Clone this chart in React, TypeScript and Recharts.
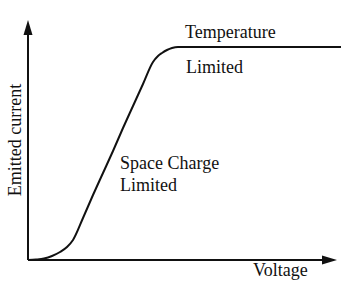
import { LineChart, Line, XAxis, YAxis, ReferenceLine, ReferenceDot, Customized } from 'recharts';

// voltage / emitted current (arbitrary units)
const voltage = [0, 8, 16, 24, 32, 39, 45, 55, 65, 75, 85, 95, 105, 115, 125, 130, 134, 139, 144, 150, 200, 260, 313];
const current = [0, 0.5, 1.5, 4, 8, 13, 20, 42, 65, 87, 109, 132, 154, 176, 198, 204, 207, 210, 212, 213, 213, 213, 213];

const chartData = voltage.map((v, i) => ({ v, i: current[i] }));

const FONT = "'Liberation Serif', 'DejaVu Serif', serif";
const INK = '#111';

const ArrowUp = (p: any) => (
  <polygon points={`${p.cx},${p.cy} ${p.cx - 4.5},${p.cy + 15} ${p.cx + 4.5},${p.cy + 15}`} fill={INK} />
);
const ArrowRight = (p: any) => (
  <polygon points={`${p.cx},${p.cy} ${p.cx - 15},${p.cy - 4.5} ${p.cx - 15},${p.cy + 4.5}`} fill={INK} />
);

function Annotations() {
  const s = { fontFamily: FONT, fontSize: 18, fill: INK };
  return (
    <g>
      <text x={185} y={38} style={s}>Temperature</text>
      <text x={186} y={73} style={s}>Limited</text>
      <text x={120} y={169} style={s}>Space Charge</text>
      <text x={120} y={191} style={s}>Limited</text>
      <text x={253} y={276} style={s}>Voltage</text>
      <text x={21} y={140} textAnchor="middle" transform="rotate(-90 21 140)" style={s}>Emitted current</text>
    </g>
  );
}

export default function App() {
  return (
    <div style={{ position: 'absolute', left: 0, top: 0, background: '#fff' }}>
      <LineChart width={341} height={287} data={chartData} margin={{ top: 20, left: 28, right: 0, bottom: 27 }}>
        <XAxis dataKey="v" type="number" domain={[0, 313]} hide allowDataOverflow />
        <YAxis type="number" domain={[0, 240]} hide allowDataOverflow />
        <ReferenceLine segment={[{ x: 0, y: 0 }, { x: 300, y: 0 }]} stroke={INK} strokeWidth={2} ifOverflow="visible" />
        <ReferenceLine segment={[{ x: 0, y: 0 }, { x: 0, y: 228 }]} stroke={INK} strokeWidth={2} ifOverflow="visible" />
        <ReferenceDot x={309} y={0} shape={ArrowRight} ifOverflow="visible" />
        <ReferenceDot x={0} y={240} shape={ArrowUp} ifOverflow="visible" />
        <Line dataKey="i" type="monotone" stroke={INK} strokeWidth={2} dot={false} isAnimationActive={false} />
        <Customized component={<Annotations />} />
      </LineChart>
    </div>
  );
}
